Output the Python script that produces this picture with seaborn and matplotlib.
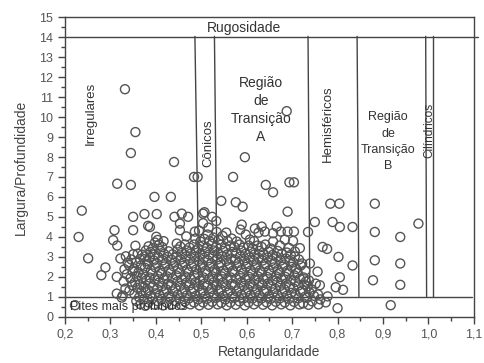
import matplotlib
matplotlib.use("Agg")
import matplotlib.pyplot as plt
import seaborn as sns
import numpy as np

# Isolated pits (retangularidade, largura/profundidade)
rect_sparse = [0.332, 0.355, 0.345, 0.440, 0.484, 0.492, 0.315, 0.345, 0.397, 0.433,
               0.350, 0.375, 0.402, 0.309, 0.350, 0.387, 0.306, 0.315, 0.322, 0.314,
               0.314, 0.325, 0.230, 0.237, 0.251, 0.280, 0.289, 0.222,
               0.441, 0.457, 0.471, 0.453, 0.383, 0.486,
               0.504, 0.507, 0.524, 0.533, 0.544, 0.576, 0.591, 0.570, 0.596, 0.688,
               0.642, 0.658, 0.694, 0.704, 0.690,
               0.784, 0.804, 0.750, 0.789, 0.805, 0.833, 0.735, 0.767, 0.777, 0.802,
               0.833, 0.739, 0.756, 0.805, 0.752, 0.761, 0.796, 0.812, 0.800, 0.730,
               0.882, 0.882, 0.938, 0.882, 0.938, 0.878, 0.938, 0.917, 0.978]
ratio_sparse = [11.40, 9.25, 8.20, 7.75, 7.00, 7.00, 6.66, 6.60, 6.00, 6.00,
                5.00, 5.14, 5.14, 4.33, 4.33, 4.49, 3.83, 3.56, 2.91, 1.99,
                1.15, 0.95, 3.99, 5.31, 2.92, 2.07, 2.46, 0.57,
                5.00, 5.16, 5.00, 4.66, 4.55, 4.26,
                5.16, 5.23, 5.00, 4.79, 5.80, 5.73, 5.51, 7.00, 7.99, 10.30,
                6.60, 6.23, 6.73, 6.73, 5.26,
                5.66, 5.66, 4.74, 4.74, 4.49, 4.49, 4.24, 3.49, 3.39, 2.99,
                2.56, 2.66, 2.25, 1.97, 1.65, 1.57, 1.47, 1.34, 0.42, 1.75,
                5.66, 4.24, 3.99, 2.82, 2.66, 1.82, 1.59, 0.57, 4.66]

# Main body of pits
rect_dense = [
    0.327, 0.333, 0.329, 0.336, 0.331, 0.338, 0.334,
    0.342, 0.348, 0.344, 0.349, 0.341, 0.346, 0.350,
    0.357, 0.353, 0.359, 0.354, 0.358, 0.352, 0.356, 0.360, 0.355,
    0.366, 0.363, 0.368, 0.364, 0.369, 0.362, 0.367, 0.365, 0.370,
    0.377, 0.373, 0.378, 0.374, 0.379, 0.372, 0.376, 0.380, 0.375, 0.378,
    0.384, 0.388, 0.383, 0.387, 0.386, 0.389, 0.382, 0.386, 0.388, 0.384,
    0.396, 0.393, 0.398, 0.394, 0.397, 0.392, 0.399, 0.395, 0.397, 0.393, 0.398, 0.401,
    0.404, 0.408, 0.403, 0.407, 0.405, 0.409, 0.402, 0.406, 0.410, 0.407, 0.404,
    0.416, 0.413, 0.418, 0.414, 0.417, 0.412, 0.419, 0.415, 0.418, 0.414, 0.417,
    0.424, 0.428, 0.423, 0.427, 0.425, 0.429, 0.422, 0.426, 0.428,
    0.436, 0.433, 0.438, 0.434, 0.437, 0.432, 0.439, 0.435, 0.437,
    0.444, 0.448, 0.443, 0.447, 0.445, 0.449, 0.442, 0.446, 0.448, 0.446,
    0.456, 0.453, 0.458, 0.454, 0.457, 0.452, 0.459, 0.455, 0.457, 0.454, 0.453,
    0.464, 0.468, 0.463, 0.467, 0.465, 0.469, 0.462, 0.466, 0.468, 0.464, 0.467,
    0.476, 0.473, 0.478, 0.474, 0.477, 0.472, 0.479, 0.475, 0.477, 0.474,
    0.484, 0.488, 0.483, 0.487, 0.485, 0.489, 0.482, 0.486, 0.488, 0.484, 0.487,
    0.496, 0.493, 0.498, 0.494, 0.497, 0.492, 0.499, 0.495, 0.497, 0.493, 0.498, 0.495,
    0.504, 0.508, 0.503, 0.507, 0.505, 0.509, 0.502, 0.506, 0.508, 0.504, 0.507, 0.504,
    0.516, 0.513, 0.518, 0.514, 0.517, 0.512, 0.519, 0.515, 0.517, 0.513, 0.518, 0.514, 0.516,
    0.524, 0.528, 0.523, 0.527, 0.525, 0.529, 0.522, 0.526, 0.528, 0.524, 0.527,
    0.536, 0.533, 0.538, 0.534, 0.537, 0.532, 0.539, 0.535, 0.537, 0.533, 0.538, 0.534,
    0.544, 0.548, 0.543, 0.547, 0.545, 0.549, 0.542, 0.546, 0.548, 0.544, 0.547,
    0.556, 0.553, 0.558, 0.554, 0.557, 0.552, 0.559, 0.555, 0.557, 0.553, 0.558, 0.555,
    0.564, 0.568, 0.563, 0.567, 0.565, 0.569, 0.562, 0.566, 0.568, 0.564, 0.567,
    0.576, 0.573, 0.578, 0.574, 0.577, 0.572, 0.579, 0.575, 0.577, 0.573, 0.578,
    0.584, 0.588, 0.583, 0.587, 0.585, 0.589, 0.582, 0.586, 0.588, 0.584, 0.586, 0.589,
    0.596, 0.593, 0.598, 0.594, 0.597, 0.592, 0.599, 0.595, 0.597, 0.593, 0.598,
    0.604, 0.608, 0.603, 0.607, 0.605, 0.609, 0.602, 0.606, 0.608, 0.604, 0.607,
    0.616, 0.613, 0.618, 0.614, 0.617, 0.612, 0.619, 0.615, 0.617, 0.613, 0.616, 0.618,
    0.624, 0.628, 0.623, 0.627, 0.625, 0.629, 0.622, 0.626, 0.628, 0.624, 0.626,
    0.636, 0.633, 0.638, 0.634, 0.637, 0.632, 0.639, 0.635, 0.637, 0.633, 0.633,
    0.644, 0.648, 0.643, 0.647, 0.645, 0.649, 0.642, 0.646, 0.648, 0.641, 0.640,
    0.656, 0.653, 0.658, 0.654, 0.657, 0.652, 0.659, 0.655, 0.657, 0.653, 0.658, 0.658,
    0.664, 0.668, 0.663, 0.667, 0.665, 0.669, 0.662, 0.666, 0.668, 0.666,
    0.676, 0.673, 0.678, 0.674, 0.677, 0.672, 0.679, 0.675, 0.677, 0.673, 0.675,
    0.684, 0.688, 0.683, 0.687, 0.685, 0.689, 0.682, 0.686, 0.688, 0.684,
    0.696, 0.693, 0.698, 0.694, 0.697, 0.692, 0.699, 0.695, 0.697, 0.693, 0.690,
    0.704, 0.708, 0.703, 0.707, 0.705, 0.709, 0.702, 0.706, 0.706, 0.702, 0.704,
    0.716, 0.713, 0.718, 0.714, 0.717, 0.712, 0.719, 0.715, 0.717,
    0.724, 0.728, 0.723, 0.727, 0.725, 0.729, 0.722,
    0.736, 0.733, 0.738, 0.734, 0.737,
    0.744, 0.748, 0.743,
    0.758, 0.762, 0.757,
    0.774, 0.778,
]
ratio_dense = [
    1.05, 1.40, 1.76, 2.12, 2.37, 2.70, 3.02,
    1.31, 1.57, 1.92, 2.26, 2.58, 2.86, 3.12,
    0.78, 1.12, 1.44, 1.72, 2.03, 2.41, 2.72, 3.15, 3.55,
    0.62, 0.96, 1.27, 1.61, 1.94, 2.22, 2.56, 2.88, 3.10,
    0.54, 0.86, 1.21, 1.47, 1.82, 2.11, 2.44, 2.77, 3.01, 3.31,
    0.71, 1.02, 1.32, 1.66, 1.96, 2.31, 2.62, 2.96, 3.24, 3.52,
    0.60, 0.91, 1.16, 1.51, 1.86, 2.16, 2.46, 2.81, 3.11, 3.42, 3.71, 4.00,
    0.77, 1.06, 1.37, 1.70, 2.02, 2.31, 2.66, 2.97, 3.29, 3.60, 3.84,
    0.56, 0.89, 1.21, 1.52, 1.86, 2.19, 2.51, 2.82, 3.14, 3.48, 3.78,
    0.70, 1.01, 1.36, 1.66, 2.01, 2.34, 2.66, 2.99, 3.27,
    0.61, 0.94, 1.26, 1.56, 1.91, 2.21, 2.52, 2.84, 3.12,
    0.76, 1.09, 1.41, 1.74, 2.06, 2.39, 2.71, 3.01, 3.36, 3.66,
    0.59, 0.91, 1.21, 1.54, 1.86, 2.21, 2.54, 2.86, 3.19, 3.51, 4.33,
    0.76, 1.06, 1.36, 1.69, 2.01, 2.36, 2.69, 3.01, 3.31, 3.61, 4.02,
    0.61, 0.91, 1.24, 1.56, 1.89, 2.21, 2.51, 2.84, 3.16, 3.46,
    0.71, 1.04, 1.39, 1.71, 2.04, 2.36, 2.66, 2.99, 3.31, 3.61, 3.91,
    0.56, 0.86, 1.19, 1.51, 1.81, 2.14, 2.46, 2.79, 3.11, 3.41, 3.76, 4.31,
    0.71, 1.01, 1.31, 1.64, 1.96, 2.29, 2.61, 2.94, 3.26, 3.56, 3.89, 4.68,
    0.59, 0.89, 1.21, 1.54, 1.86, 2.16, 2.49, 2.81, 3.11, 3.44, 3.79, 4.11, 4.46,
    0.74, 1.06, 1.39, 1.71, 2.01, 2.34, 2.66, 2.99, 3.31, 3.64, 3.96,
    0.61, 0.94, 1.26, 1.56, 1.89, 2.21, 2.54, 2.86, 3.16, 3.49, 3.84, 4.24,
    0.69, 1.04, 1.36, 1.69, 2.01, 2.31, 2.69, 3.01, 3.29, 3.61, 4.04,
    0.56, 0.86, 1.19, 1.51, 1.84, 2.16, 2.46, 2.79, 3.11, 3.44, 3.79, 4.21,
    0.71, 1.01, 1.31, 1.64, 1.96, 2.29, 2.61, 2.91, 3.24, 3.56, 3.91,
    0.59, 0.94, 1.26, 1.56, 1.89, 2.21, 2.51, 2.84, 3.16, 3.49, 3.76,
    0.76, 1.09, 1.41, 1.71, 2.04, 2.36, 2.69, 3.01, 3.31, 3.61, 4.36, 4.61,
    0.56, 0.91, 1.21, 1.54, 1.86, 2.19, 2.49, 2.81, 3.14, 3.46, 4.11,
    0.71, 1.06, 1.36, 1.66, 1.99, 2.31, 2.64, 2.96, 3.26, 3.56, 3.86,
    0.61, 0.91, 1.21, 1.51, 1.84, 2.16, 2.46, 2.79, 3.11, 3.41, 3.78, 4.41,
    0.76, 1.06, 1.36, 1.69, 2.01, 2.31, 2.61, 2.94, 3.29, 3.56, 4.21,
    0.59, 0.91, 1.24, 1.56, 1.86, 2.21, 2.51, 2.81, 3.11, 3.49, 4.51,
    0.71, 1.01, 1.34, 1.66, 1.99, 2.31, 2.64, 2.96, 3.26, 3.61, 4.26,
    0.56, 0.89, 1.21, 1.51, 1.81, 2.16, 2.46, 2.79, 3.09, 3.41, 3.76, 4.18,
    0.74, 1.06, 1.39, 1.71, 2.01, 2.34, 2.66, 2.99, 3.29, 4.51,
    0.61, 0.91, 1.21, 1.54, 1.86, 2.19, 2.49, 2.81, 3.14, 3.56, 4.26,
    0.71, 1.04, 1.36, 1.66, 1.99, 2.29, 2.61, 2.91, 3.21, 3.86,
    0.56, 0.89, 1.19, 1.51, 1.84, 2.16, 2.49, 2.79, 3.09, 3.44, 4.26,
    0.74, 1.09, 1.41, 1.74, 2.06, 2.39, 2.71, 3.01, 3.26, 3.79, 4.26,
    0.61, 0.91, 1.24, 1.56, 1.89, 2.21, 2.56, 2.86, 3.43,
    0.66, 0.99, 1.31, 1.61, 1.96, 2.31, 2.66,
    0.59, 0.94, 1.21, 1.51, 1.81,
    0.76, 1.04, 1.36,
    0.61, 0.86, 1.11,
    0.71, 1.01,
]

x_ticks = [0.2, 0.3, 0.4, 0.5, 0.6, 0.7, 0.8, 0.9, 1.0, 1.1]
x_tick_labels = ["0,2", "0,3", "0,4", "0,5", "0,6", "0,7", "0,8", "0,9", "1,0", "1,1"]
y_ticks = list(range(0, 16))

# Class boundaries: (x at y=14, x at y=1)
boundaries = [(0.486, 0.495), (0.529, 0.535), (0.735, 0.739),
              (0.843, 0.847), (0.994, 0.996), (1.010, 1.010)]

sns.set_style("ticks")
plt.rcParams["font.family"] = ["Liberation Sans", "DejaVu Sans"]

ink = "#444444"
fig = plt.figure(figsize=(4.85, 3.63), dpi=100)
ax = fig.add_axes([0.134, 0.128, 0.843, 0.824])

x_all = np.array(rect_dense + rect_sparse)
y_all = np.array(ratio_dense + ratio_sparse)
sns.scatterplot(x=x_all, y=y_all, ax=ax, s=42, marker="o",
                facecolor="none", edgecolor="#555555", linewidth=1.0,
                legend=False, zorder=3)

# Region boundaries
ax.plot([0.2, 1.11], [14, 14], color=ink, lw=1.0, clip_on=False, zorder=2)
ax.plot([0.2, 1.096], [1, 1], color=ink, lw=1.0, zorder=2)
for top, bottom in boundaries:
    ax.plot([top, bottom], [14.05, 1], color=ink, lw=1.0, zorder=2)

txt = dict(color="#333333", ha="center", va="center")
ax.text(0.595, 14.45, "Rugosidade", fontsize=10, **txt)
ax.text(0.256, 10.2, "Irregulares", fontsize=9.5, rotation=90, **txt)
ax.text(0.515, 8.7, "Cônicos", fontsize=9.5, rotation=90, **txt)
ax.text(0.631, 11.7, "Região", fontsize=10, **txt)
ax.text(0.631, 10.8, "de", fontsize=10, **txt)
ax.text(0.631, 9.9, "Transição", fontsize=10, **txt)
ax.text(0.631, 9.0, "A", fontsize=10, **txt)
ax.text(0.779, 9.65, "Hemisféricos", fontsize=9.5, rotation=90, **txt)
ax.text(0.911, 10.0, "Região", fontsize=9, **txt)
ax.text(0.911, 9.15, "de", fontsize=9, **txt)
ax.text(0.911, 8.35, "Transição", fontsize=9, **txt)
ax.text(0.911, 7.55, "B", fontsize=9, **txt)
ax.text(1.003, 9.35, "Cilíndricos", fontsize=8.5, rotation=90, **txt)
ax.text(0.212, 0.47, "Pites mais profundos", fontsize=9, color="#333333",
        ha="left", va="center")

ax.set_xlim(0.2, 1.1)
ax.set_ylim(0, 15)
ax.set_xticks(x_ticks)
ax.set_xticklabels(x_tick_labels)
ax.set_xticks(np.arange(0.25, 1.1, 0.1), minor=True)
ax.set_yticks(y_ticks)
ax.set_yticks(np.arange(0.5, 15, 1.0), minor=True)
ax.tick_params(which="major", direction="out", length=5, width=1, color=ink,
               labelsize=9, labelcolor="#555555")
ax.tick_params(which="minor", direction="out", length=3, width=1, color=ink)
for sp in ax.spines.values():
    sp.set_color(ink)
    sp.set_linewidth(1.0)

ax.set_xlabel("Retangularidade", fontsize=10, color="#444444", labelpad=3)
ax.set_ylabel("Largura/Profundidade", fontsize=10, color="#444444", labelpad=8)

fig.savefig("out.png", dpi=100)
